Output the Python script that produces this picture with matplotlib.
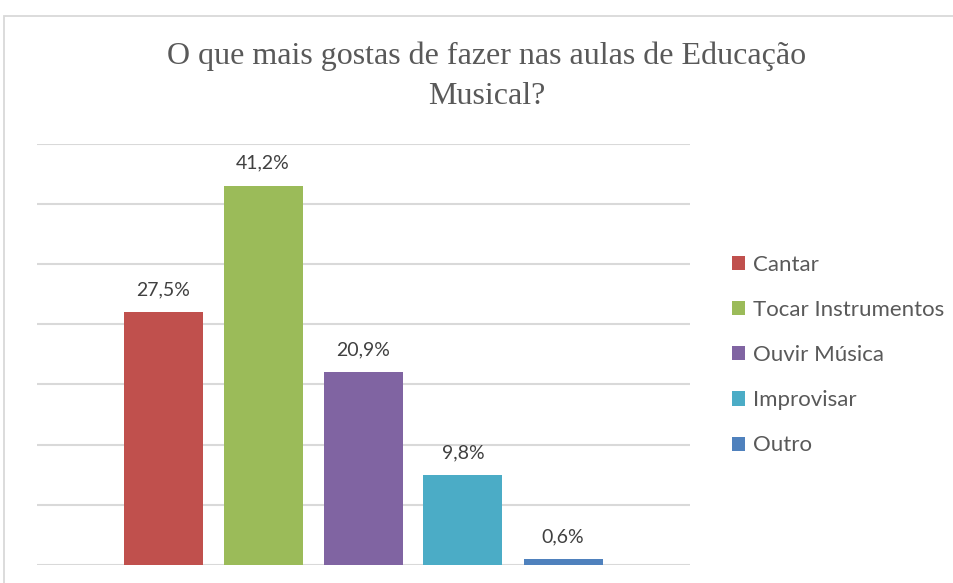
import matplotlib
matplotlib.use('Agg')
import matplotlib.pyplot as plt
from matplotlib.patches import Rectangle

# survey answers (percent of respondents)
categories = ['Cantar', 'Tocar Instrumentos', 'Ouvir Música', 'Improvisar', 'Outro']
values = [27.5, 41.2, 20.9, 9.8, 0.6]
labels = ['27,5%', '41,2%', '20,9%', '9,8%', '0,6%']
colors = ['#C0504D', '#9BBB59', '#8064A2', '#4BACC6', '#4F81BD']

# gridlines every 10 answers out of 153
grid_step = 10 / 153 * 100
n_grid = 7

W, H = 954, 583
fig = plt.figure(figsize=(W / 100, H / 100), dpi=100)

# chart frame (light gray border, runs past the right/bottom edge)
fig.patches.append(Rectangle((4 / W, -0.1), 1.2, (H - 16) / H + 0.1,
                             transform=fig.transFigure, fill=False,
                             edgecolor='#d9d9d9', linewidth=1.3))

ax = fig.add_axes([37 / W, (H - 565) / H, (690 - 37) / W, (565 - 143.6) / H])

x = list(range(len(values)))
for i in x:
    ax.bar(i, values[i], width=0.79, color=colors[i], label=categories[i], zorder=3)
    ax.text(i, values[i] + 1.5, labels[i], ha='center', va='bottom',
            fontsize=14, color='#404040', family='Lato')

ax.set_xlim(-1.26, 5.27)
ax.set_ylim(0, grid_step * n_grid)
ax.set_yticks([grid_step * k for k in range(n_grid + 1)])
ax.yaxis.grid(True, color='#d9d9d9', linewidth=1.5, zorder=0)
ax.tick_params(left=False, bottom=False, labelleft=False, labelbottom=False)
for s in ax.spines.values():
    s.set_visible(False)

fig.text(487 / W, 1 - 76 / H, 'O que mais gostas de fazer nas aulas de Educação\nMusical?',
         ha='center', va='center', fontsize=23, color='#595959',
         family='Liberation Serif', linespacing=1.52)

leg = fig.legend(loc='upper left', bbox_to_anchor=(732 / W, 1 - 255 / H),
                 frameon=False, prop={'family': 'Lato', 'size': 16},
                 labelcolor='#595959', handlelength=0.6, handleheight=0.6,
                 handletextpad=0.33, labelspacing=1.13, borderaxespad=0, borderpad=0)

fig.savefig('out.png', dpi=100)
